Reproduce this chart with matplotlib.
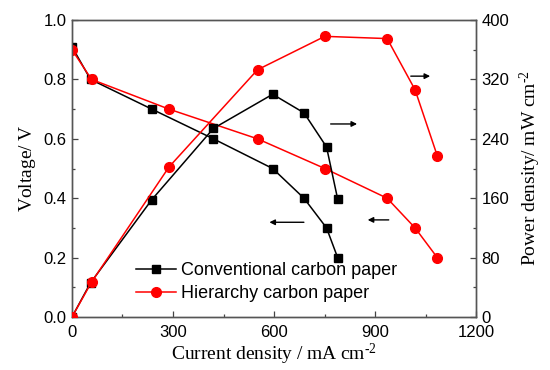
import matplotlib
matplotlib.use("Agg")
import matplotlib.pyplot as plt
from matplotlib.ticker import MultipleLocator

plt.rcParams['font.family'] = ['Liberation Sans', 'DejaVu Sans']
plt.rcParams['mathtext.fontset'] = 'custom'
plt.rcParams['mathtext.rm'] = 'Liberation Serif'
plt.rcParams['mathtext.it'] = 'Liberation Serif:italic'

# Data
conv_current_v = [0, 55, 237, 420, 596, 689, 756, 789]
conv_voltage = [0.91, 0.80, 0.70, 0.60, 0.50, 0.40, 0.30, 0.20]
conv_current_p = [0, 55, 237, 420, 596, 689, 756, 789]
conv_power = [0, 46, 158, 254, 300, 275, 229, 159]

hier_current = [0, 58, 288, 551, 751, 936, 1019, 1085]
hier_voltage = [0.90, 0.80, 0.70, 0.60, 0.50, 0.40, 0.30, 0.20]
hier_power = [0, 47, 202, 333, 378, 375, 306, 217]

labels = ["Conventional carbon paper", "Hierarchy carbon paper"]

fig = plt.figure(figsize=(5.5, 3.7), dpi=100)
ax = fig.add_axes([0.1309, 0.1432, 0.7346, 0.8027])
ax2 = ax.twinx()

lw = 1.1
l1, = ax.plot(conv_current_v, conv_voltage, '-s', color='black', lw=lw, ms=5.5, label=labels[0], zorder=3)
l2, = ax.plot(hier_current, hier_voltage, '-o', color='#ff0000', lw=lw, ms=7, label=labels[1], zorder=3)
ax2.plot(conv_current_p, conv_power, '-s', color='black', lw=lw, ms=5.5, zorder=3)
ax2.plot(hier_current, hier_power, '-o', color='#ff0000', lw=lw, ms=7, zorder=3)

ax.set_xlim(0, 1200)
ax.set_ylim(0, 1.0)
ax2.set_ylim(0, 400)
ax.xaxis.set_major_locator(MultipleLocator(300))
ax.xaxis.set_minor_locator(MultipleLocator(150))
ax.yaxis.set_major_locator(MultipleLocator(0.2))
ax.yaxis.set_minor_locator(MultipleLocator(0.1))
ax2.yaxis.set_major_locator(MultipleLocator(80))
ax2.yaxis.set_minor_locator(MultipleLocator(40))
ax.yaxis.set_major_formatter(matplotlib.ticker.FormatStrFormatter('%.1f'))

for a in (ax, ax2):
    a.tick_params(which='major', direction='in', length=4.5, width=0.9, labelsize=12, color='#444444')
    a.tick_params(which='minor', direction='in', length=2.5, width=0.9, color='#444444')
    for s in a.spines.values():
        s.set_color('#555555')
        s.set_linewidth(1.0)
ax.tick_params(axis='x', pad=6)
ax.tick_params(axis='y', pad=4)
ax2.tick_params(axis='y', pad=4)

ax.set_xlabel("$\\mathrm{Current\\ density\\ /\\ mA\\ cm^{\u20102}}$", fontsize=14, labelpad=1)
ax.set_ylabel(r"$\mathrm{Voltage/\ V}$", fontsize=14, labelpad=4)
ax2.set_ylabel("$\\mathrm{Power\\ density/\\ mW\\ cm^{\u20102}}$", fontsize=14, labelpad=6)

# Arrows indicating axes
arrow_kw = dict(arrowstyle='-|>', color='black', lw=1.0, mutation_scale=8)
ax.annotate('', xy=(578, 0.319), xytext=(697, 0.319), arrowprops=arrow_kw)
ax.annotate('', xy=(870, 0.327), xytext=(949, 0.327), arrowprops=arrow_kw)
ax.annotate('', xy=(855, 0.65), xytext=(760, 0.65), arrowprops=arrow_kw)
ax.annotate('', xy=(1072, 0.811), xytext=(998, 0.811), arrowprops=arrow_kw)

leg = ax.legend(handles=[l1, l2], loc='lower left', bbox_to_anchor=(0.14, 0.025),
                frameon=False, fontsize=13, handlelength=2.2, handletextpad=0.3,
                labelspacing=0.35, borderaxespad=0)

fig.savefig("out.png", dpi=100)
